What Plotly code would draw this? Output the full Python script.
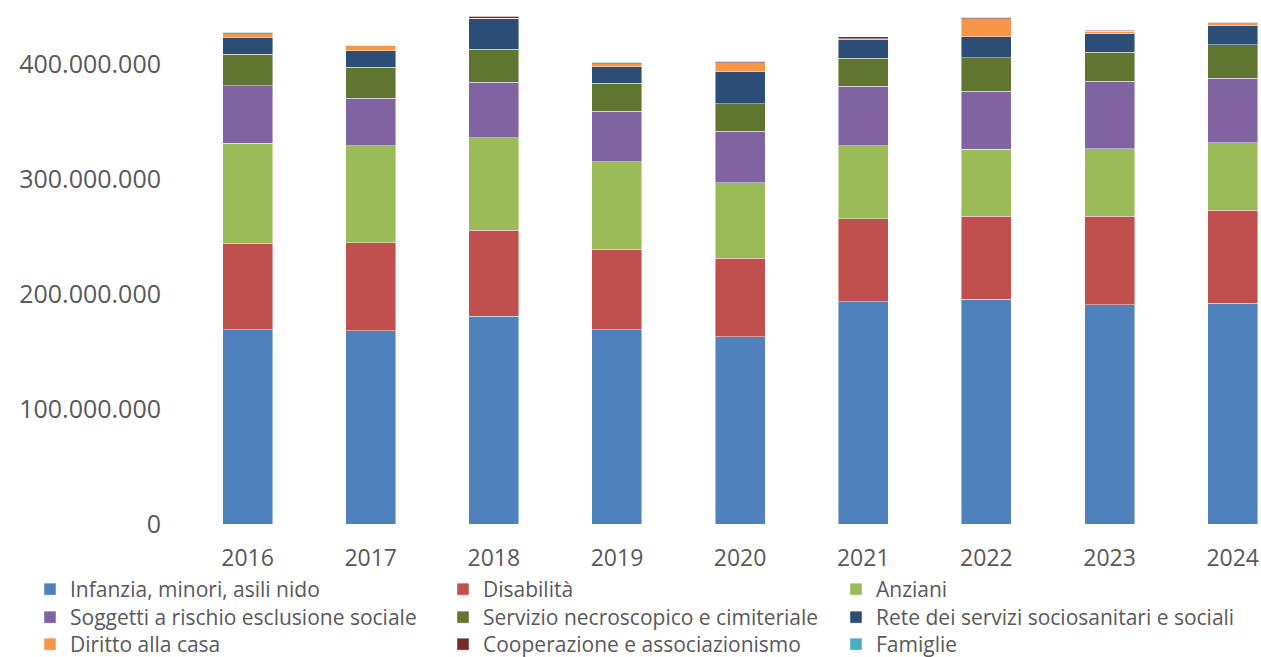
import plotly.graph_objects as go

years = ["2016", "2017", "2018", "2019", "2020", "2021", "2022", "2023", "2024"]

infanzia = [168.9, 168.3, 181.0, 168.9, 163.0, 193.5, 195.8, 190.9, 192.3]
disabilita = [75.3, 76.3, 74.5, 70.4, 68.5, 72.4, 71.9, 76.8, 80.9]
anziani = [87.1, 84.8, 80.8, 75.9, 65.5, 63.2, 58.6, 58.8, 58.8]
soggetti = [50.3, 41.2, 48.2, 44.1, 44.7, 51.9, 50.4, 58.9, 56.0]
necroscopico = [27.3, 27.0, 28.7, 24.4, 24.0, 24.4, 29.0, 25.2, 29.0]
rete = [14.8, 14.4, 26.6, 14.1, 27.8, 16.2, 18.2, 16.2, 16.7]
casa = [3.1, 4.1, 0.3, 2.9, 8.1, 0.8, 15.9, 2.3, 2.4]
cooperazione = [0.9, 0.6, 2.0, 0.9, 0.9, 1.5, 1.2, 0.8, 0.8]
famiglie = [0.2, 0.2, 0.2, 0.2, 0.2, 0.2, 0.2, 0.2, 0.2]

series_names = [
    "Infanzia, minori, asili nido", "Disabilità", "Anziani",
    "Soggetti a rischio esclusione sociale", "Servizio necroscopico e cimiteriale",
    "Rete dei servizi sociosanitari e sociali", "Diritto alla casa",
    "Cooperazione e associazionismo", "Famiglie",
]
series_values = [infanzia, disabilita, anziani, soggetti, necroscopico, rete, casa, cooperazione, famiglie]
colors = ["#4F81BD", "#C0504D", "#9BBB59", "#8064A2", "#5F7530", "#2C4D75", "#F79646", "#772C2A", "#4BACC6"]

FONT = "Open Sans, Lato, sans-serif"
W, H = 1261, 657
col_x = [30, 443, 836]      # legend column left edges (px)
row_top = [569, 597, 624]   # legend row top edges (px)

fig = go.Figure()
legends = {}
for i, (name, vals, col) in enumerate(zip(series_names, series_values, colors)):
    lid = "legend" if i == 0 else f"legend{i + 1}"
    fig.add_trace(go.Bar(
        x=years, y=[v * 1e6 for v in vals], name=name,
        marker=dict(color=col, line=dict(color="rgba(255,255,255,0.55)", width=0.8)),
        legend=lid,
    ))
    legends[lid] = dict(
        orientation="v", traceorder="normal",
        xref="container", yref="container",
        x=col_x[i % 3] / W, y=1 - row_top[i // 3] / H,
        xanchor="left", yanchor="top",
        font=dict(family=FONT, size=21, color="#595959"),
        bgcolor="rgba(0,0,0,0)", itemwidth=30,
    )

fig.update_layout(
    width=W, height=H,
    margin=dict(l=186, r=0, t=7, b=133, autoexpand=False),
    paper_bgcolor="white", plot_bgcolor="white",
    barmode="stack", bargap=0.594,
    font=dict(family=FONT, color="#595959"),
    xaxis=dict(
        type="category", range=[-0.5, 8.23], showgrid=False, showline=False,
        ticks="", ticklabelstandoff=18,
        tickfont=dict(family=FONT, size=23, color="#595959"),
    ),
    yaxis=dict(
        range=[0, 450e6], tickvals=[0, 100e6, 200e6, 300e6, 400e6],
        ticktext=["0", "100.000.000", "200.000.000", "300.000.000", "400.000.000"],
        showgrid=False, zeroline=False, showline=False, ticks="",
        ticklabelstandoff=24,
        tickfont=dict(family=FONT, size=25, color="#595959"),
    ),
    showlegend=True,
    **legends,
)

fig.write_html(
    "out.html",
    config={"displayModeBar": False},
    post_script="document.body.style.margin='0';",
)
